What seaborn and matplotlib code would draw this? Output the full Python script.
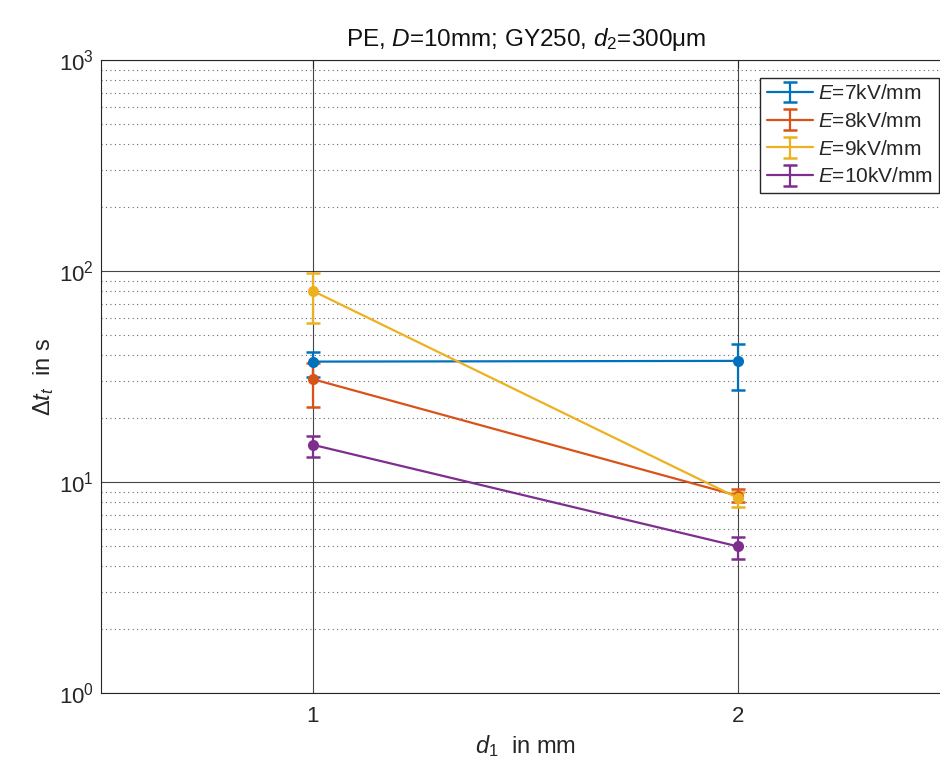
import numpy as np
import pandas as pd
import seaborn as sns
import matplotlib
matplotlib.use("Agg")
import matplotlib.pyplot as plt
from matplotlib.ticker import LogLocator, NullFormatter, FixedLocator
from matplotlib.lines import Line2D
from matplotlib.legend_handler import HandlerTuple

# ---- data ----
d1 = [1, 2]
fields = ["E=7kV/mm", "E=8kV/mm", "E=9kV/mm", "E=10kV/mm"]
legend_labels = [r"$E$=7kV/mm", r"$E$=8kV/mm", r"$E$=9kV/mm", r"$E$=10kV/mm"]
dt_7 = [37.2, 37.5]
dt_8 = [30.7, 8.6]
dt_9 = [80.4, 8.4]
dt_10 = [15.0, 4.95]
err_lo_7 = [31.5, 27.2]
err_hi_7 = [41.2, 45.0]
err_lo_8 = [22.7, 8.0]
err_hi_8 = [36.5, 9.3]
err_lo_9 = [56.5, 7.65]
err_hi_9 = [97.5, 9.0]
err_lo_10 = [13.2, 4.3]
err_hi_10 = [16.5, 5.47]
colors = ["#0072BD", "#D95319", "#EDB120", "#7E2F8E"]

sns.set_style("white")
plt.rcParams["font.family"] = ["Liberation Sans", "DejaVu Sans"]
plt.rcParams["mathtext.fontset"] = "custom"
plt.rcParams["mathtext.rm"] = "Liberation Sans"
plt.rcParams["mathtext.it"] = "Liberation Sans:italic"
plt.rcParams["mathtext.bf"] = "Liberation Sans:bold"

values = [dt_7, dt_8, dt_9, dt_10]
los = [err_lo_7, err_lo_8, err_lo_9, err_lo_10]
his = [err_hi_7, err_hi_8, err_hi_9, err_hi_10]

df = pd.DataFrame({
    "d1": d1 * 4,
    "dt": sum(values, []),
    "E": sum([[f] * 2 for f in fields], []),
})

fig = plt.figure(figsize=(9.4, 7.69), dpi=100)
ax = fig.add_axes([100.5 / 940, 76 / 769, 850 / 940, 633 / 769])

handles = []
for i, f in enumerate(fields):
    v = np.array(values[i])
    lo = v - np.array(los[i])
    hi = np.array(his[i]) - v
    eb = ax.errorbar(d1, v, yerr=[lo, hi], fmt="none", ecolor=colors[i],
                     elinewidth=1.6, capsize=5, capthick=1.8, zorder=3)
    handles.append(eb)

sns.lineplot(data=df, x="d1", y="dt", hue="E", hue_order=fields,
             palette=colors, marker="o", markersize=8, markeredgewidth=0,
             linewidth=1.6, legend=False, ax=ax, zorder=4)

line_handles = [Line2D([], [], color=c, lw=1.6) for c in colors]
leg = ax.legend([(lh, eh) for lh, eh in zip(line_handles, handles)], legend_labels,
                handler_map={tuple: HandlerTuple(ndivide=1)},
                loc="upper right", bbox_to_anchor=(939 / 940, (769 - 78) / 769),
                bbox_transform=fig.transFigure,
                fontsize=15, frameon=True, fancybox=False,
                borderaxespad=0, handlelength=2.2, handletextpad=0.25,
                labelspacing=0.42, borderpad=0.3)
leg.get_frame().set_edgecolor("#262626")
leg.get_frame().set_linewidth(1.0)
leg.get_frame().set_alpha(1)

ax.set_yscale("log")
ax.set_ylim(1, 1000)
ax.set_xlim(0.5, 2.5)
ax.xaxis.set_major_locator(FixedLocator(d1))
ax.set_xticklabels(["1", "2"])
ax.yaxis.set_major_locator(LogLocator(base=10, numticks=10))
ax.yaxis.set_minor_locator(LogLocator(base=10, subs=np.arange(2, 10), numticks=20))
ax.yaxis.set_minor_formatter(NullFormatter())

ax.grid(True, which="major", color="#262626", lw=0.8, alpha=0.85)
ax.grid(True, which="minor", axis="y", color="#262626", lw=0.8, ls=(0, (1, 3)), alpha=0.7)
ax.set_axisbelow(True)

ax.tick_params(axis="both", which="both", direction="in", top=True, right=True,
               labelsize=16, color="#262626", colors="#262626")
ax.tick_params(axis="y", which="major", length=6, pad=5)
ax.tick_params(axis="y", which="minor", length=3)
ax.tick_params(axis="x", which="major", length=6, pad=9)
for sp in ax.spines.values():
    sp.set_color("#262626")
    sp.set_linewidth(0.8)

ax.set_xlabel(r"$d_{1}$  in mm", fontsize=17, color="#262626", labelpad=5)
ax.set_ylabel(r"Δ$t_{t}$  in s", fontsize=17, color="#262626", labelpad=2)
ax.set_title(r"PE, $D$=10mm; GY250, $d_{2}$=300μm", fontsize=17.5, color="#111111", pad=10)

fig.savefig("out.png", dpi=100)
